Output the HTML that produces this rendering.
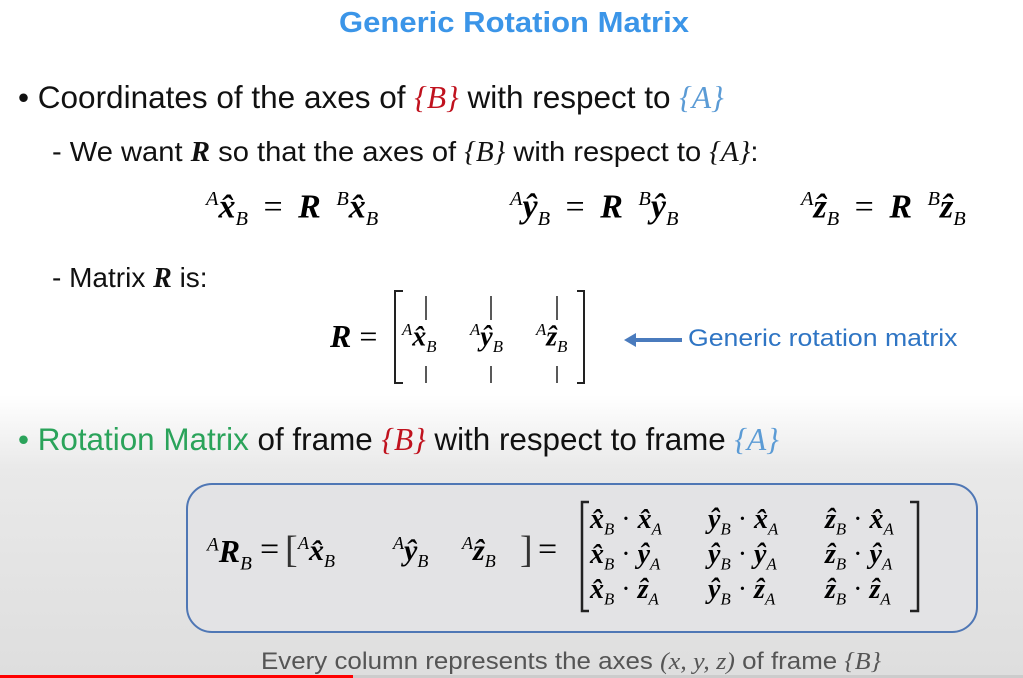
<!DOCTYPE html>
<html><head><meta charset="utf-8"><style>
*{margin:0;padding:0}
body{width:1023px;height:678px;overflow:hidden;position:relative;font-family:"Liberation Sans",sans-serif;
background:linear-gradient(to bottom,#fff 0,#fff 395px,#e9e9e9 470px,#dedede 678px);}
.a{position:absolute;white-space:nowrap}
.m{font-family:"Liberation Serif",serif;}
.v{font-family:"Liberation Serif",serif;font-weight:bold;font-style:italic}
sup,sub{font-family:"Liberation Serif",serif;font-style:italic;font-weight:normal;font-size:60%}
.t{color:#111;transform-origin:left}
.n{font-style:normal;font-weight:normal}
.c{font-size:28px;line-height:30px}
.e{font-size:34px;word-spacing:7px}
</style></head><body>
<div class="a" style="left:339px;top:7px;font-size:29px;font-weight:bold;color:#3b95e8;transform:scaleX(1.07);transform-origin:left">Generic Rotation Matrix</div>

<div class="a t" style="left:18px;top:79px;font-size:31.5px">• Coordinates of the axes of <span class="m" style="color:#c0121e;font-style:italic">{B}</span> with respect to <span class="m" style="color:#5b9bd5;font-style:italic">{A}</span></div>

<div class="a t" style="left:52px;top:136px;font-size:28px;transform:scaleX(1.04)">- We want <span class="v">R</span> so that the axes of <span class="m" style="font-style:italic">{B}</span> with respect to <span class="m" style="font-style:italic">{A}</span>:</div>

<div class="a v e" style="left:206px;top:188px"><sup>A</sup>x̂<sub>B</sub> <span class="n">=</span> R <sup>B</sup>x̂<sub>B</sub></div>
<div class="a v e" style="left:510px;top:188px"><sup>A</sup>ŷ<sub>B</sub> <span class="n">=</span> R <sup>B</sup>ŷ<sub>B</sub></div>
<div class="a v e" style="left:801px;top:188px"><sup>A</sup>ẑ<sub>B</sub> <span class="n">=</span> R <sup>B</sup>ẑ<sub>B</sub></div>

<div class="a t" style="left:52px;top:262px;font-size:28px;transform:scaleX(1.0)">- Matrix <span class="v">R</span> is:</div>

<div class="a v" style="left:330px;top:318px;font-size:32px">R <span class="n">=</span></div>
<svg class="a" style="left:390px;top:288px" width="200" height="100">
<path d="M13,3 H5 V95 H13 M187,3 H194 V95 H187" fill="none" stroke="#222" stroke-width="2"/>
<path d="M36,8 V32 M36,78 V95 M101,8 V32 M101,78 V95 M167,8 V32 M167,78 V95" stroke="#222" stroke-width="1.5"/>
</svg>
<div class="a v" style="left:402px;top:320px;font-size:28px"><sup>A</sup>x̂<sub>B</sub></div>
<div class="a v" style="left:470px;top:320px;font-size:28px"><sup>A</sup>ŷ<sub>B</sub></div>
<div class="a v" style="left:536px;top:320px;font-size:28px"><sup>A</sup>ẑ<sub>B</sub></div>
<svg class="a" style="left:622px;top:330px" width="60" height="20"><path d="M60,10 H8" stroke="#4a7bbd" stroke-width="4"/><path d="M2,10 L14,3 L14,17 Z" fill="#4a7bbd"/></svg>
<div class="a" style="left:688px;top:325px;font-size:24px;color:#2f75c4;transform:scaleX(1.11);transform-origin:left">Generic rotation matrix</div>

<div class="a" style="left:18px;top:422px;font-size:31.4px;color:#111"><span style="color:#2aa35a">• Rotation Matrix</span> of frame <span class="m" style="color:#c0121e;font-style:italic">{B}</span> with respect to frame <span class="m" style="color:#5b9bd5;font-style:italic">{A}</span></div>

<div class="a" style="left:186px;top:483px;width:788px;height:146px;border:2px solid #4f77b5;border-radius:26px;background:#e3e3e5"></div>
<div class="a v" style="left:207px;top:533px;font-size:32px"><sup>A</sup>R<sub>B</sub></div>
<div class="a m" style="left:260px;top:531px;font-size:34px">=</div>
<div class="a m" style="left:285px;top:528px;font-size:38px;color:#333">[</div>
<div class="a v" style="left:298px;top:533px;font-size:30px"><sup>A</sup>x̂<sub>B</sub></div>
<div class="a v" style="left:393px;top:533px;font-size:30px"><sup>A</sup>ŷ<sub>B</sub></div>
<div class="a v" style="left:462px;top:533px;font-size:30px"><sup>A</sup>ẑ<sub>B</sub></div>
<div class="a m" style="left:520px;top:528px;font-size:38px;color:#333">]</div>
<div class="a m" style="left:538px;top:531px;font-size:34px">=</div>

<svg class="a" style="left:577px;top:500px" width="350" height="115"><path d="M12,2 H5 V111 H12 M333,2 H341 V111 H333" fill="none" stroke="#222" stroke-width="2.5"/></svg>
<div class="a v c" style="left:590px;top:505px">x̂<sub>B</sub> <span class="n">·</span> x̂<sub>A</sub></div>
<div class="a v c" style="left:708px;top:505px">ŷ<sub>B</sub> <span class="n">·</span> x̂<sub>A</sub></div>
<div class="a v c" style="left:825px;top:505px">ẑ<sub>B</sub> <span class="n">·</span> x̂<sub>A</sub></div>
<div class="a v c" style="left:590px;top:540px">x̂<sub>B</sub> <span class="n">·</span> ŷ<sub>A</sub></div>
<div class="a v c" style="left:708px;top:540px">ŷ<sub>B</sub> <span class="n">·</span> ŷ<sub>A</sub></div>
<div class="a v c" style="left:825px;top:540px">ẑ<sub>B</sub> <span class="n">·</span> ŷ<sub>A</sub></div>
<div class="a v c" style="left:590px;top:575px">x̂<sub>B</sub> <span class="n">·</span> ẑ<sub>A</sub></div>
<div class="a v c" style="left:708px;top:575px">ŷ<sub>B</sub> <span class="n">·</span> ẑ<sub>A</sub></div>
<div class="a v c" style="left:825px;top:575px">ẑ<sub>B</sub> <span class="n">·</span> ẑ<sub>A</sub></div>

<div class="a" style="left:261px;top:648px;font-size:24px;color:#555;transform:scaleX(1.08);transform-origin:left">Every column represents the axes <span class="m" style="font-style:italic">(x, y, z)</span> of frame <span class="m" style="font-style:italic">{B}</span></div>
<div class="a" style="left:0;top:675px;width:353px;height:3px;background:#f00"></div>
<div class="a" style="left:353px;top:675px;width:670px;height:3px;background:#ccc"></div>
</body></html>
